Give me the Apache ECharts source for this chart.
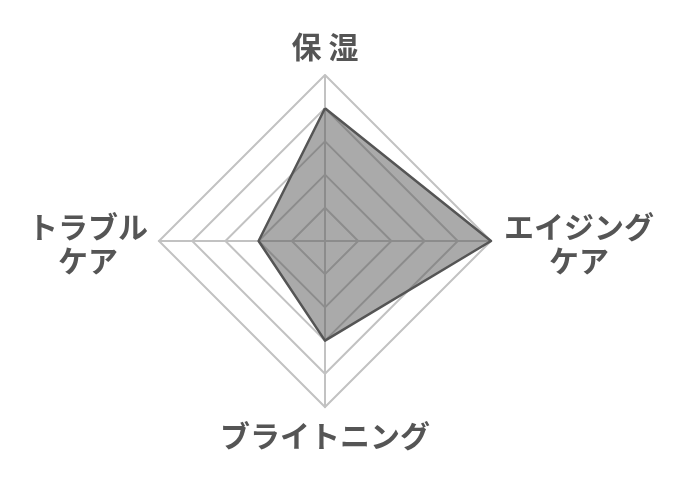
<!DOCTYPE html>
<html>
<head>
<meta charset="utf-8">
<script src="https://cdn.jsdelivr.net/npm/echarts@6/dist/echarts.min.js"></script>
<style>
  html, body { margin: 0; padding: 0; background: #fff; }
  #chart { width: 680px; height: 480px; }
</style>
</head>
<body>
<div id="chart"></div>
<script>
// 軸 (上から反時計回り)
const indicatorNames = ['保 湿', 'トラブル\nケア', 'ブライトニング', 'エイジング\nケア'];
const indicatorRich = ['c', 'l', 'c', 'r'];
const maxValue = 5;
const scores = [4, 2, 3, 5];

const chart = echarts.init(document.getElementById('chart'));

const base = {fontSize: 30, fontWeight: 'bold', color: '#555', lineHeight: 39, fontFamily: 'Noto Sans CJK JP'};

const option = {
  animation: false,
  radar: {
    center: [325, 241],
    radius: 166,
    startAngle: 90,
    shape: 'polygon',
    splitNumber: 5,
    indicator: indicatorNames.map(name => ({name: name, max: maxValue})),
    axisName: {
      formatter: (name) => {
        const k = indicatorRich[indicatorNames.indexOf(name)];
        return name.split('\n').map((s, j) => '{' + k + (j === 0 && k !== 'c' ? '1' : '') + '|' + s + '}').join('\n');
      },
      rich: {
        c: base,
        l: Object.assign({}, base, {width: 124, align: 'center'}),
        l1: Object.assign({}, base, {width: 124, align: 'center', padding: [10, 0, 0, 0]}),
        r: Object.assign({}, base, {width: 158, align: 'center'}),
        r1: Object.assign({}, base, {width: 158, align: 'center', padding: [10, 0, 0, 0]})
      }
    },
    nameGap: 9,
    splitLine: {lineStyle: {color: '#c2c2c2', width: 2}},
    splitArea: {show: false},
    axisLine: {lineStyle: {color: '#c2c2c2', width: 2}}
  },
  series: [{
    type: 'radar',
    symbol: 'none',
    lineStyle: {color: '#555', width: 2.5},
    areaStyle: {color: '#555', opacity: 0.5},
    data: [{value: scores}]
  }]
};

chart.setOption(option);
</script>
</body>
</html>
